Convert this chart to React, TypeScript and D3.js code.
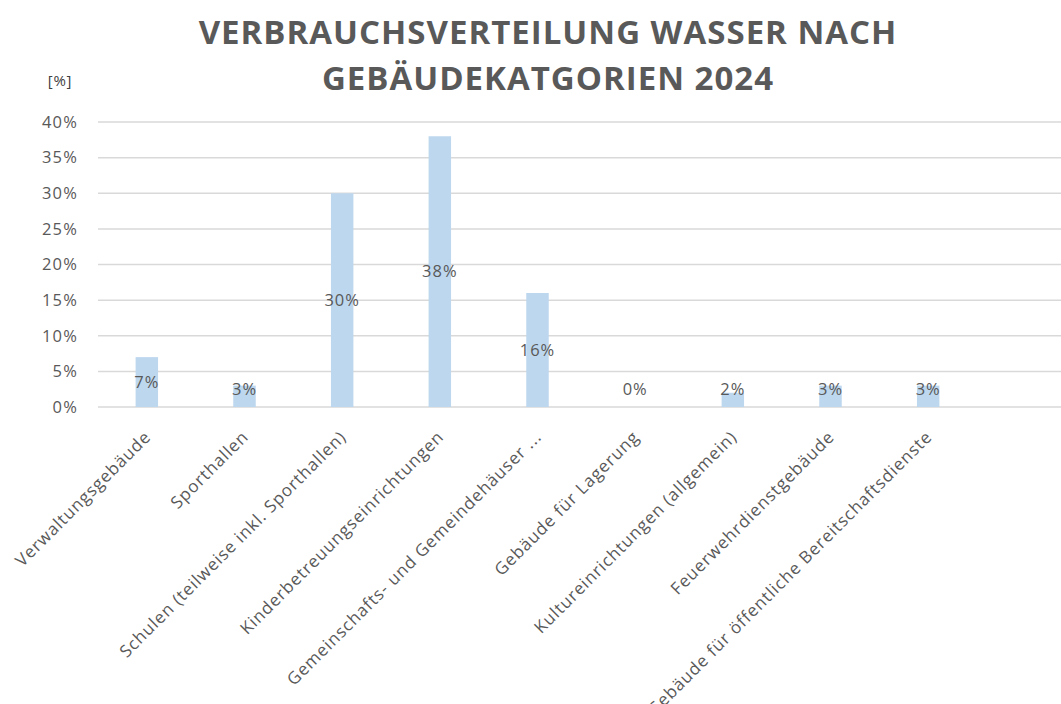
import React, { useRef, useEffect } from 'react';
import * as d3 from 'd3';

const categories = [
  'Verwaltungsgebäude',
  'Sporthallen',
  'Schulen (teilweise inkl. Sporthallen)',
  'Kinderbetreuungseinrichtungen',
  'Gemeinschafts- und Gemeindehäuser ...',
  'Gebäude für Lagerung',
  'Kultureinrichtungen (allgemein)',
  'Feuerwehrdienstgebäude',
  'Gebäude für öffentliche Bereitschaftsdienste',
];
const shares = [7, 3, 30, 38, 16, 0, 2, 3, 3];
const yTicks = [0, 5, 10, 15, 20, 25, 30, 35, 40];
const titleLines = ['VERBRAUCHSVERTEILUNG WASSER NACH', 'GEBÄUDEKATGORIEN 2024'];

const FONT = '"Open Sans", Lato, sans-serif';
const TEXT = '#595959';

export default function App() {
  const svgRef = useRef<SVGSVGElement>(null);
  const width = 1061;
  const height = 704;
  const margin = { top: 122, right: 0, bottom: 297, left: 98 };

  useEffect(() => {
    const svg = d3.select(svgRef.current);
    svg.selectAll('*').remove();

    const data = categories.map((c, i) => ({ cat: c, value: shares[i] }));

    const x = d3.scaleBand()
      .domain(categories)
      .range([margin.left, 977])
      .paddingInner(0.77)
      .paddingOuter(0.385);

    const y = d3.scaleLinear()
      .domain([0, 40])
      .range([height - margin.bottom, margin.top]);

    // gridlines
    svg.append('g')
      .selectAll('line')
      .data(yTicks)
      .join('line')
      .attr('x1', margin.left)
      .attr('x2', width - margin.right)
      .attr('y1', d => y(d))
      .attr('y2', d => y(d))
      .attr('stroke', '#d9d9d9')
      .attr('stroke-width', 1.5);

    // y axis labels
    svg.append('g')
      .attr('transform', `translate(${margin.left - 20},0)`)
      .call(d3.axisLeft(y).tickValues(yTicks).tickFormat(d => `${d}%`).tickSize(0).tickPadding(0))
      .call(g => g.select('.domain').remove())
      .call(g => g.selectAll('.tick text')
        .attr('font-size', 16.5)
        .attr('letter-spacing', 1.2)
        .attr('font-family', FONT)
        .attr('fill', TEXT));

    // bars
    svg.append('g')
      .selectAll('rect')
      .data(data)
      .join('rect')
      .attr('x', d => x(d.cat)!)
      .attr('width', x.bandwidth())
      .attr('y', d => y(d.value))
      .attr('height', d => y(0) - y(d.value))
      .attr('fill', '#bdd7ee');

    // value labels
    svg.append('g')
      .selectAll('text')
      .data(data)
      .join('text')
      .attr('x', d => x(d.cat)! + x.bandwidth() / 2)
      .attr('y', d => Math.min((y(d.value) + y(0)) / 2, y(0) - 18))
      .attr('dy', '0.35em')
      .attr('text-anchor', 'middle')
      .attr('font-size', 16.5)
      .attr('letter-spacing', 1)
      .attr('font-family', FONT)
      .attr('fill', TEXT)
      .text(d => `${d.value}%`);

    // x labels
    svg.append('g')
      .selectAll('text')
      .data(categories)
      .join('text')
      .attr('transform', d => `translate(${x(d)! + x.bandwidth() / 2 + 5},${y(0) + 31}) rotate(-45)`)
      .attr('text-anchor', 'end')
      .attr('font-size', 17)
      .attr('letter-spacing', 0.9)
      .attr('font-family', FONT)
      .attr('fill', TEXT)
      .text(d => d);

    // title
    svg.append('g')
      .selectAll('text')
      .data(titleLines)
      .join('text')
      .attr('x', 548)
      .attr('y', (d, i) => 44 + i * 46)
      .attr('text-anchor', 'middle')
      .attr('font-size', 33)
      .attr('letter-spacing', 1)
      .attr('font-weight', 'bold')
      .attr('font-family', FONT)
      .attr('fill', TEXT)
      .text(d => d);

    // unit label
    svg.append('text')
      .attr('x', 60)
      .attr('y', 86)
      .attr('text-anchor', 'middle')
      .attr('font-size', 15)
      .attr('letter-spacing', 0.8)
      .attr('font-family', FONT)
      .attr('fill', '#404040')
      .text('[%]');
  }, []);

  return (
    <svg
      ref={svgRef}
      width={width}
      height={height}
      style={{ position: 'absolute', left: 0, top: 0, background: '#fff' }}
    />
  );
}
